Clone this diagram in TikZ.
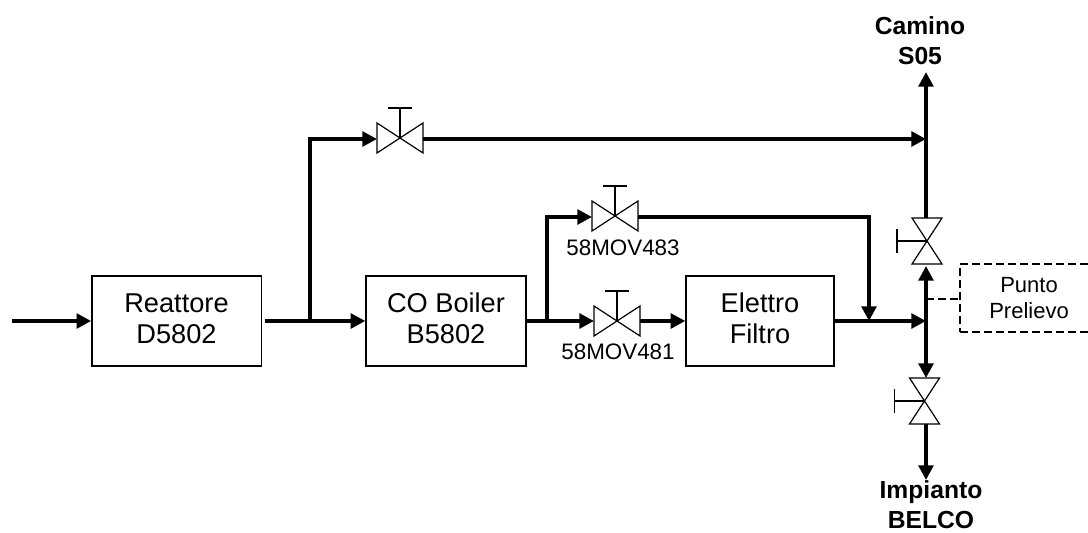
\documentclass[tikz,border=0pt]{standalone}
\usepackage{fontspec}
\setmainfont{Liberation Sans}
\usetikzlibrary{arrows.meta,calc}
\tikzset{
  unitbox/.style={draw, line width=1pt, minimum height=67.5pt, align=center, font=\fontsize{20.4}{23.5}\selectfont, text depth=4pt},
  pipe/.style={line width=2.8pt, -{Triangle[length=11pt,width=11pt]}},
  tagtext/.style={font=\fontsize{16.8}{20}\selectfont, inner sep=0pt},
  endtext/.style={font=\bfseries\fontsize{18.5}{22.5}\selectfont, align=center, inner sep=0pt},
  valveline/.style={line width=0.9pt, line join=miter},
  dashline/.style={line width=0.9pt, dash pattern=on 6pt off 3pt},
}
\newcommand{\hvalve}[2]{%
  \coordinate (#1) at (#2);
  \draw[valveline, fill=white] ($(#1)+(-23,-15)$) -- ($(#1)+(23,15)$) -- ($(#1)+(23,-15)$) -- ($(#1)+(-23,15)$) -- cycle;
  \draw[valveline] (#1) -- ($(#1)+(0,-30)$) ($(#1)+(-12,-30)$) -- ($(#1)+(12,-30)$);
}
\newcommand{\vvalve}[2]{%
  \coordinate (#1) at (#2);
  \draw[valveline, fill=white] ($(#1)+(-15,-23)$) -- ($(#1)+(15,23)$) -- ($(#1)+(-15,23)$) -- ($(#1)+(15,-23)$) -- cycle;
  \draw[valveline] (#1) -- ($(#1)+(-30,0)$) ($(#1)+(-30,-12)$) -- ($(#1)+(-30,12)$);
}
\begin{document}
\begin{tikzpicture}[x=0.75pt, y=-0.75pt]
\useasboundingbox (0,0) rectangle (1088,532);
% boxes
\node[unitbox, minimum width=127pt] (reattore) at (176.5,321) {Reattore\\D5802};
\node[unitbox, minimum width=120pt] (boiler) at (446,321) {CO Boiler\\B5802};
\node[unitbox, minimum width=111pt] (filtro) at (760,321) {Elettro\\Filtro};
\node[dashline, draw, minimum width=103.5pt, minimum height=51pt, align=center, font=\fontsize{16.5}{20}\selectfont, text depth=-4pt] (punto) at (1029,298) {Punto\\Prelievo};
% valves
\hvalve{vbypass}{400,138}
\hvalve{v483}{615,216}
\hvalve{v481}{617,321}
\vvalve{vcamino}{927,241}
\vvalve{vbelco}{924.5,401}
\node[tagtext] (t483) at (623,248) {58MOV483};
\node[tagtext] (t481) at (618,352) {58MOV481};
\node[endtext] (camino) at (920,41) {Camino\\S05};
\node[endtext] (belco) at (931,505) {Impianto\\BELCO};
% junctions
\coordinate (in) at (12,321);
\coordinate (j1) at (310,321);
\coordinate (j2) at (547,321);
\coordinate (j3) at (926,139);
\coordinate (j4) at (926,321);
\coordinate (j5) at (869,321);
\coordinate (j6) at (926,299);
\coordinate (up) at (926,72);
\coordinate (down) at (926,480);
% pipes
\draw[pipe] (in) -- (reattore.west);
\draw[pipe, shorten <=2pt] (reattore.east) -- (boiler.west);
\draw[pipe] (j1) |- ($(vbypass)+(-23,1)$);
\draw[pipe] ($(vbypass)+(23,1)$) -- (j3);
\draw[pipe] (boiler.east) -- ($(v481)+(-23,0)$);
\draw[pipe] ($(v481)+(23,0)$) -- (filtro.west);
\draw[pipe] (j2) |- ($(v483)+(-23,1)$);
\draw[pipe] ($(v483)+(23,1)$) -| (j5);
\draw[pipe] (filtro.east) -- (j4);
\draw[pipe] ($(vcamino)+(-1,-23)$) -- (up);
\draw[pipe] (j4) -- ($(vcamino)+(-1,25)$);
\draw[pipe] (j4) -- ($(vbelco)+(1.5,-23)$);
\draw[pipe] ($(vbelco)+(1.5,23)$) -- (down);
\draw[dashline] (j6) -- (punto.west |- j6);
\end{tikzpicture}
\end{document}
